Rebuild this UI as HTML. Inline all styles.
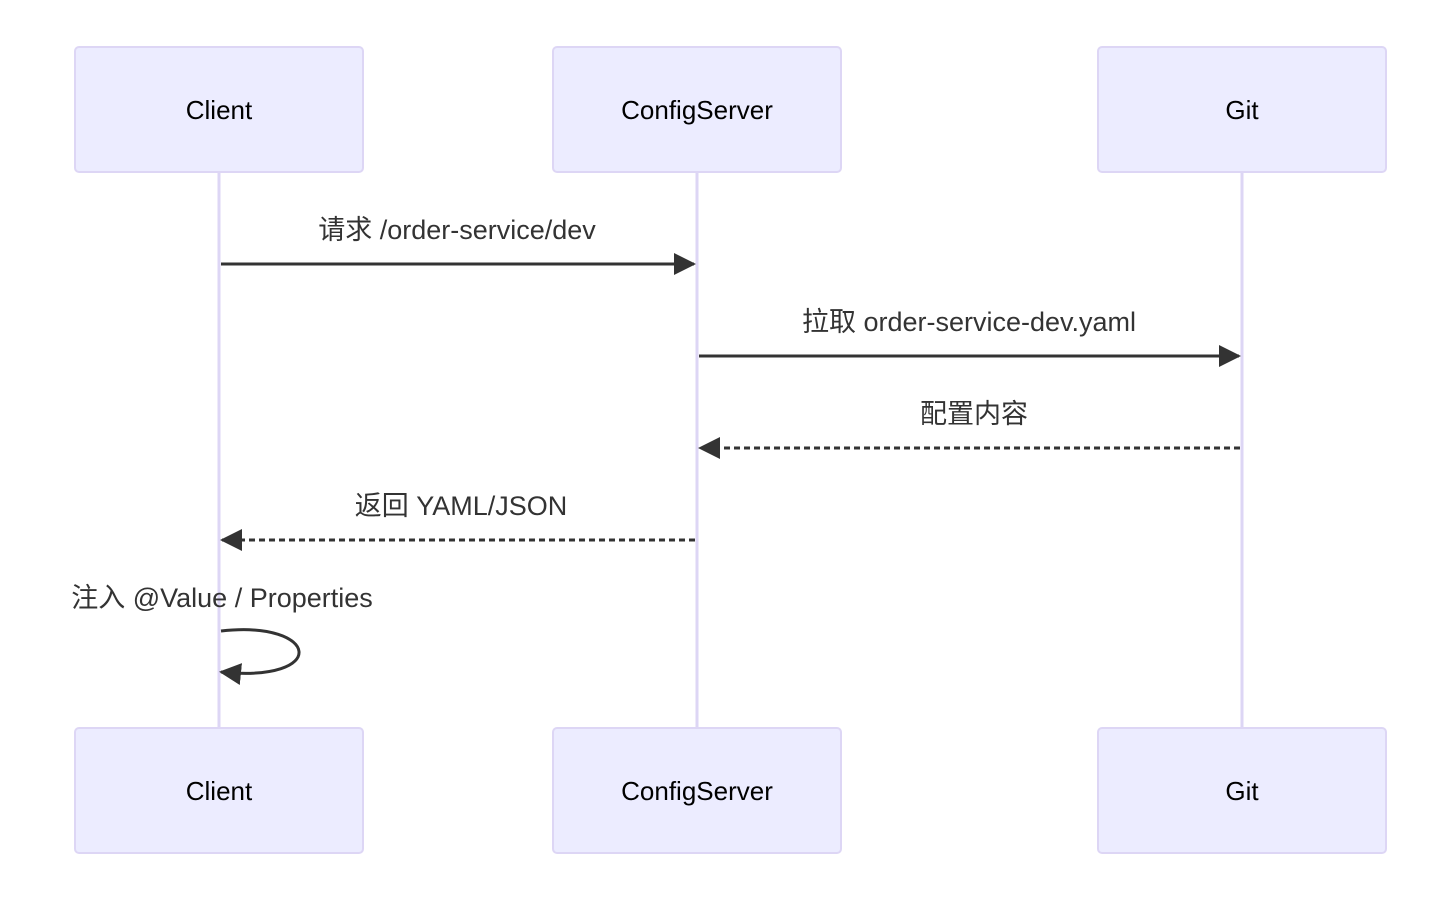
<!DOCTYPE html>
<html><head><meta charset="utf-8"><style>
html,body{margin:0;padding:0;background:#fff;}
svg text{font-family:"Liberation Sans","Noto Sans CJK SC",sans-serif;fill:#333;}
.a{font-size:26px;fill:#000;text-anchor:middle;dominant-baseline:central;}
.m{font-size:27px;text-anchor:middle;}
</style></head><body>
<svg width="1429" height="913" viewBox="0 0 1429 913" xmlns="http://www.w3.org/2000/svg">
<defs>
<marker id="ah" markerWidth="22" markerHeight="22" refX="20" refY="11" orient="auto" markerUnits="userSpaceOnUse"><path d="M0,0 L22,11 L0,22 z" fill="#333"/></marker>
</defs>
<g stroke="#ddd6f5" stroke-width="3">
<line x1="219" y1="172" x2="219" y2="728"/>
<line x1="697" y1="172" x2="697" y2="728"/>
<line x1="1242" y1="172" x2="1242" y2="728"/>
</g>
<g fill="#ececff" stroke="#ddd6f5" stroke-width="2">
<rect x="75" y="47" width="288" height="125" rx="4"/>
<rect x="553" y="47" width="288" height="125" rx="4"/>
<rect x="1098" y="47" width="288" height="125" rx="4"/>
<rect x="75" y="728" width="288" height="125" rx="4"/>
<rect x="553" y="728" width="288" height="125" rx="4"/>
<rect x="1098" y="728" width="288" height="125" rx="4"/>
</g>
<text class="a" x="219" y="110">Client</text>
<text class="a" x="697" y="110">ConfigServer</text>
<text class="a" x="1242" y="110">Git</text>
<text class="a" x="219" y="791">Client</text>
<text class="a" x="697" y="791">ConfigServer</text>
<text class="a" x="1242" y="791">Git</text>
<g stroke="#333" stroke-width="3" fill="none">
<line x1="221" y1="264" x2="694" y2="264" marker-end="url(#ah)"/>
<line x1="699" y1="356" x2="1239" y2="356" marker-end="url(#ah)"/>
<line x1="1240" y1="448" x2="700" y2="448" stroke-dasharray="6,4" marker-end="url(#ah)"/>
<line x1="695" y1="540" x2="222" y2="540" stroke-dasharray="6,4" marker-end="url(#ah)"/>
<path d="M221,631 C320,620 330,683 221,672" marker-end="url(#ah)"/>
</g>
<text class="m" x="457" y="239">请求 /order-service/dev</text>
<text class="m" x="969" y="331">拉取 order-service-dev.yaml</text>
<text class="m" x="974" y="423">配置内容</text>
<text class="m" x="461" y="515">返回 YAML/JSON</text>
<text class="m" x="222" y="607">注入 @Value / Properties</text>
</svg>
</body></html>
